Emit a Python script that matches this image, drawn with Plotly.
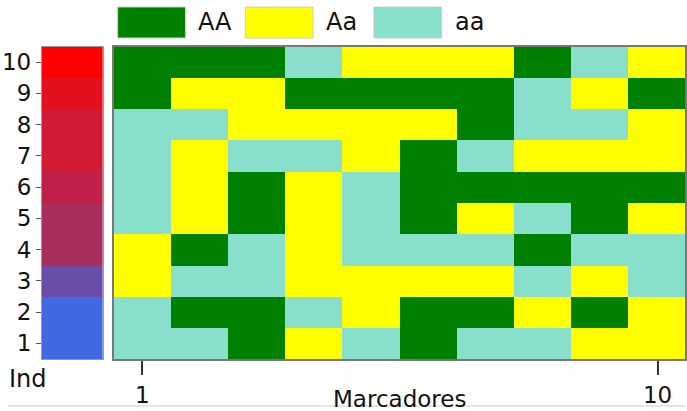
import plotly.graph_objects as go

# ---- data ----
markers = list(range(1, 11))
individuals = list(range(1, 11))
genotype_labels = ["AA", "Aa", "aa"]
genotype_colors = ["#008000", "#FFFF00", "#88DFCC"]
ind_colors = ["#4169E1", "#4169E1", "#6A4DA9", "#A82E5E", "#A82E5E",
              "#BF2149", "#D11B35", "#D11B35", "#E4101E", "#FF0000"]

# genotype of each individual (row) at markers 1..10
ind_01 = ["aa", "aa", "AA", "Aa", "aa", "AA", "aa", "aa", "Aa", "Aa"]
ind_02 = ["aa", "AA", "AA", "aa", "Aa", "AA", "AA", "Aa", "AA", "Aa"]
ind_03 = ["Aa", "aa", "aa", "Aa", "Aa", "Aa", "Aa", "aa", "Aa", "aa"]
ind_04 = ["Aa", "AA", "aa", "Aa", "aa", "aa", "aa", "AA", "aa", "aa"]
ind_05 = ["aa", "Aa", "AA", "Aa", "aa", "AA", "Aa", "aa", "AA", "Aa"]
ind_06 = ["aa", "Aa", "AA", "Aa", "aa", "AA", "AA", "AA", "AA", "AA"]
ind_07 = ["aa", "Aa", "aa", "aa", "Aa", "AA", "aa", "Aa", "Aa", "Aa"]
ind_08 = ["aa", "aa", "Aa", "Aa", "Aa", "Aa", "AA", "aa", "aa", "Aa"]
ind_09 = ["AA", "Aa", "Aa", "AA", "AA", "AA", "AA", "aa", "Aa", "AA"]
ind_10 = ["AA", "AA", "AA", "aa", "Aa", "Aa", "Aa", "AA", "aa", "Aa"]
genotypes = [ind_01, ind_02, ind_03, ind_04, ind_05,
             ind_06, ind_07, ind_08, ind_09, ind_10]

# ---- build ----
code = {g: i for i, g in enumerate(genotype_labels)}
z_geno = [[code[g] for g in row] for row in genotypes]
geno_scale = [[0, genotype_colors[0]], [0.333, genotype_colors[0]],
              [0.334, genotype_colors[1]], [0.666, genotype_colors[1]],
              [0.667, genotype_colors[2]], [1, genotype_colors[2]]]

n = len(individuals)
z_ind = [[k] for k in range(n)]
ind_scale = [[k / (n - 1), c] for k, c in enumerate(ind_colors)]

fig = go.Figure()
fig.add_trace(go.Heatmap(x=[0], y=individuals, z=z_ind, colorscale=ind_scale,
                         zmin=0, zmax=n - 1, showscale=False,
                         xaxis="x", yaxis="y", hoverinfo="skip"))
fig.add_trace(go.Heatmap(x=markers, y=individuals, z=z_geno, colorscale=geno_scale,
                         zmin=0, zmax=2, showscale=False,
                         xaxis="x2", yaxis="y2",
                         text=genotypes, hovertemplate="%{text}<extra></extra>"))

W, H = 687, 411
def px(v):
    return v / W
def py(v):
    return 1 - v / H

ydom = [py(359), py(46.5)]
font = dict(family="DejaVu Sans, Verdana, sans-serif", size=24, color="#111")
tickfont = dict(font, size=23)

fig.update_layout(
    width=W, height=H,
    margin=dict(l=0, r=0, t=0, b=0),
    paper_bgcolor="white", plot_bgcolor="white",
    font=font, showlegend=False,
    xaxis=dict(domain=[px(42), px(103)], range=[-0.5, 0.5], showticklabels=False,
               ticks="", showgrid=False, zeroline=False,
               showline=True, mirror=True, linecolor="#999", linewidth=1),
    yaxis=dict(domain=ydom, range=[0.5, 10.5], tickvals=individuals,
               ticktext=[str(i) for i in individuals], ticks="outside",
               ticklen=5, tickcolor="#555", tickwidth=1, showgrid=False,
               zeroline=False, showline=True, mirror=True, linecolor="#999",
               linewidth=1, tickfont=tickfont),
    xaxis2=dict(domain=[px(114), 1.0], range=[0.5, 10.48], anchor="y2",
                tickvals=[markers[0], markers[-1]],
                ticktext=[str(markers[0]), str(markers[-1])],
                ticks="outside", ticklen=14, tickwidth=2, tickcolor="#333",
                showgrid=False, zeroline=False, showline=True, mirror=True,
                linecolor="#777", linewidth=2, tickfont=tickfont),
    yaxis2=dict(domain=ydom, range=[0.5, 10.5], anchor="x2", matches="y",
                showticklabels=False, ticks="", showgrid=False, zeroline=False,
                showline=True, mirror=True, linecolor="#777", linewidth=2),
)

# bottom thin rule
fig.add_shape(type="line", xref="paper", yref="paper", x0=px(8), x1=1,
              y0=py(406), y1=py(406), line=dict(color="#ccc", width=1), layer="below")

# axis titles
fig.add_annotation(text="Marcadores", xref="paper", yref="paper",
                   x=(px(114) + 1.0) / 2, y=py(399), xanchor="center", yanchor="middle",
                   showarrow=False, font=dict(font, size=23))
fig.add_annotation(text="Ind", xref="paper", yref="paper",
                   x=px(7), y=py(379), xanchor="left", yanchor="middle",
                   showarrow=False, font=font)

# legend drawn as big swatches
legend_x = [118, 246, 375]
for lab, col, x0 in zip(genotype_labels, genotype_colors, legend_x):
    fig.add_shape(type="rect", xref="paper", yref="paper",
                  x0=px(x0), x1=px(x0 + 68), y0=py(38), y1=py(7),
                  fillcolor=col, line=dict(color="#ccc", width=1))
    fig.add_annotation(text=lab, xref="paper", yref="paper",
                       x=px(x0 + 79), y=py(22.5), xanchor="left", yanchor="middle",
                       showarrow=False, font=font)

fig.write_html("out.html",
               config={"displayModeBar": False},
               post_script="document.body.style.margin='0';"
                           "document.body.style.overflow='hidden';")
